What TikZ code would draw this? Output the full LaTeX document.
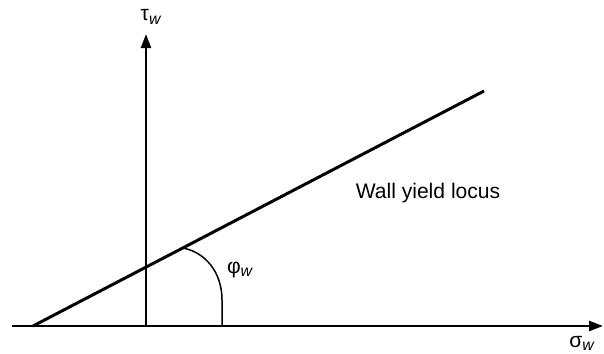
\documentclass[tikz,border=0pt]{standalone}
\usepackage{fontspec}
\setmainfont{Liberation Sans}
\usepackage{tikz}
\usetikzlibrary{positioning, calc, arrows.meta}

\newcommand{\wsub}{\textsubscript{\fontsize{9}{10}\selectfont\itshape w}}

\begin{document}
\begin{tikzpicture}[
    x=0.02cm, y=-0.02cm,
    axis/.style={line width=1.4pt, -{Triangle[length=2.8mm, width=2mm]}},
    locus/.style={line width=1.7pt},
    anglearc/.style={line width=0.85pt},
    lbl/.style={font=\fontsize{12}{14}\selectfont, inner sep=0pt},
  ]
    \useasboundingbox (0,0) rectangle (604,353);

    % Axes
    \coordinate (XL) at (12,326);
    \coordinate (XR) at (603,326);
    \coordinate (O)  at (146,326);
    \coordinate (YT) at (146,34);
    \draw[axis] (XL) -- (XR);
    \draw[axis] (O) -- (YT);
    \node[lbl] (TAU) at (151,17) {τ\wsub};
    \node[lbl] (SIG) at (582,343) {σ\wsub};

    % Wall yield locus
    \coordinate (L0) at (33,326);
    \coordinate (L1) at (484,91);
    \draw[locus] (L0) -- (L1);
    \node[lbl] (WYL) at (428,193) {Wall yield locus};

    % Wall friction angle
    \coordinate (A0) at ($(L0)!0.332!(L1)$);
    \coordinate (A1) at (222,326);
    \draw[anglearc] (A0) .. controls (205,252) and (222,272) .. (222,300) -- (A1);
    \node[lbl] (PHI) at (240,270) {φ\wsub};
\end{tikzpicture}
\end{document}
